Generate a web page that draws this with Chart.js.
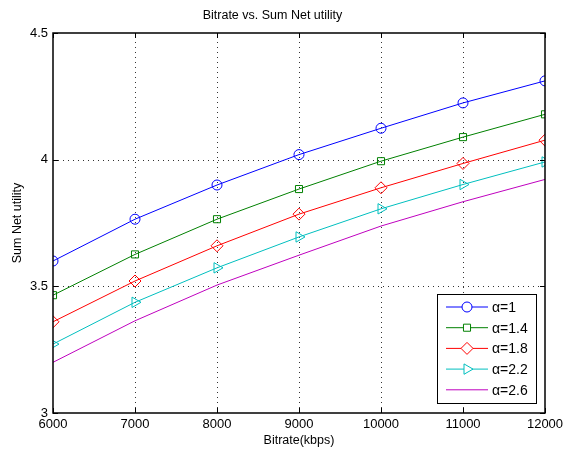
<!DOCTYPE html>
<html>
<head>
<meta charset="utf-8">
<script src="https://cdn.jsdelivr.net/npm/chart.js@4"></script>
<style>
  html, body { margin: 0; padding: 0; background: #fff; }
  #wrap { width: 564px; height: 451px; }
</style>
</head>
<body>
<div id="wrap"><canvas id="chart" width="564" height="451"></canvas></div>
<script>
const bitrates = [6000, 7000, 8000, 9000, 10000, 11000, 12000];
const alpha1 = [3.600, 3.765, 3.900, 4.020, 4.124, 4.224, 4.311];
const alpha14 = [3.465, 3.626, 3.765, 3.884, 3.994, 4.089, 4.179];
const alpha18 = [3.360, 3.521, 3.660, 3.785, 3.889, 3.985, 4.077];
const alpha22 = [3.272, 3.437, 3.573, 3.695, 3.806, 3.902, 3.991];
const alpha26 = [3.200, 3.364, 3.505, 3.623, 3.738, 3.834, 3.922];
const seriesNames = ['α=1', 'α=1.4', 'α=1.8', 'α=2.2', 'α=2.6'];
const xTicks = [6000, 7000, 8000, 9000, 10000, 11000, 12000];
const yTicks = [3, 3.5, 4, 4.5];

const FONT = '"Liberation Sans", Arial, sans-serif';

function series(label, values, color, style, radius, rotation) {
  return {
    label,
    data: bitrates.map((x, i) => ({ x, y: values[i] })),
    borderColor: color,
    backgroundColor: 'rgba(0,0,0,0)',
    borderWidth: 1,
    pointStyle: style,
    pointRadius: radius,
    pointRotation: rotation || 0,
    pointBorderColor: color,
    pointBackgroundColor: 'rgba(0,0,0,0)',
    pointBorderWidth: 1,
    tension: 0
  };
}

const datasets = [
  series(seriesNames[0], alpha1, '#0000ff', 'circle', 5),
  series(seriesNames[1], alpha14, '#008000', 'rect', 5),
  series(seriesNames[2], alpha18, '#ff0000', 'rectRot', 6),
  series(seriesNames[3], alpha22, '#00bfbf', 'triangle', 6, 90),
  series(seriesNames[4], alpha26, '#bf00bf', false, 0)
];

// dotted grid, drawn under the lines
const dottedGrid = {
  id: 'dottedGrid',
  beforeDatasetsDraw(chart) {
    const { ctx, chartArea: a, scales } = chart;
    ctx.save();
    ctx.strokeStyle = '#333';
    ctx.lineWidth = 1;
    ctx.setLineDash([1, 4]);
    ctx.beginPath();
    xTicks.slice(1, -1).forEach(t => {
      const px = Math.round(scales.x.getPixelForValue(t)) + 0.5;
      ctx.moveTo(px, a.bottom); ctx.lineTo(px, a.top);
    });
    yTicks.slice(1, -1).forEach(t => {
      const py = Math.round(scales.y.getPixelForValue(t)) + 0.5;
      ctx.moveTo(a.left, py); ctx.lineTo(a.right, py);
    });
    ctx.stroke();
    ctx.restore();
  }
};

// box, inner ticks and the legend, matlab style
const matlabFrame = {
  id: 'matlabFrame',
  afterDatasetsDraw(chart) {
    const { ctx, chartArea: a, scales } = chart;
    ctx.save();
    ctx.strokeStyle = '#000';
    ctx.lineWidth = 1;
    ctx.beginPath();
    xTicks.forEach(t => {
      const px = Math.round(scales.x.getPixelForValue(t)) + 0.5;
      ctx.moveTo(px, a.bottom); ctx.lineTo(px, a.bottom - 5);
      ctx.moveTo(px, a.top); ctx.lineTo(px, a.top + 5);
    });
    yTicks.forEach(t => {
      const py = Math.round(scales.y.getPixelForValue(t)) + 0.5;
      ctx.moveTo(a.left, py); ctx.lineTo(a.left + 5, py);
      ctx.moveTo(a.right, py); ctx.lineTo(a.right - 5, py);
    });
    ctx.stroke();
    ctx.lineWidth = 1.5;
    ctx.strokeRect(a.left, a.top, a.right - a.left, a.bottom - a.top);

    // legend
    const lx = 437, ly = 294, lw = 99, lh = 109;
    ctx.fillStyle = '#fff';
    ctx.fillRect(lx, ly, lw, lh);
    ctx.lineWidth = 1;
    ctx.strokeRect(lx + 0.5, ly + 0.5, lw, lh);
    ctx.font = '14px ' + FONT;
    ctx.textBaseline = 'middle';
    chart.data.datasets.forEach((ds, i) => {
      const y = 307 + i * 20.7;
      ctx.strokeStyle = ds.borderColor;
      ctx.lineWidth = 1;
      ctx.beginPath();
      ctx.moveTo(446, y); ctx.lineTo(488, y);
      ctx.stroke();
      if (ds.pointStyle) {
        ctx.fillStyle = '#fff';
        Chart.helpers.drawPoint(ctx, {
          pointStyle: ds.pointStyle,
          radius: ds.pointRadius,
          rotation: ds.pointRotation,
          borderWidth: 1
        }, 467, y);
      }
      ctx.fillStyle = '#000';
      ctx.fillText(ds.label, 492, y + 1);
    });
    ctx.restore();
  }
};

new Chart(document.getElementById('chart'), {
  type: 'line',
  data: { datasets },
  plugins: [dottedGrid, matlabFrame],
  options: {
    responsive: false,
    animation: false,
    layout: { padding: { left: 0, right: 19, top: 0, bottom: 0 } },
    plugins: {
      legend: { display: false },
      tooltip: { enabled: false },
      title: {
        display: true,
        text: 'Bitrate vs. Sum Net utility',
        color: '#000',
        font: { family: FONT, size: 12.5, weight: 'normal' },
        padding: { top: 8, bottom: 10 }
      }
    },
    scales: {
      x: {
        type: 'linear',
        min: 6000, max: 12000,
        afterFit(s) { s.height = 38; s.paddingLeft = 0; s.paddingRight = 0; },
        afterBuildTicks(s) { s.ticks = xTicks.map(v => ({ value: v })); },
        ticks: {
          color: '#000',
          font: { family: FONT, size: 13 },
          padding: 4,
          maxRotation: 0,
          callback: v => String(v)
        },
        grid: { display: false, drawTicks: false },
        border: { display: false },
        title: {
          display: true, text: 'Bitrate(kbps)', color: '#000',
          font: { family: FONT, size: 12.5 }, padding: { top: 1, bottom: 3 }
        }
      },
      y: {
        type: 'linear',
        min: 3, max: 4.5,
        afterFit(s) { s.width = 53; s.paddingTop = 0; s.paddingBottom = 0; },
        afterBuildTicks(s) { s.ticks = yTicks.map(v => ({ value: v })); },
        ticks: {
          color: '#000',
          font: { family: FONT, size: 13 },
          padding: 5,
          callback: v => String(v)
        },
        grid: { display: false, drawTicks: false },
        border: { display: false },
        title: {
          display: true, text: 'Sum Net utility', color: '#000',
          font: { family: FONT, size: 12.5 }, padding: { top: 10, bottom: 4 }
        }
      }
    }
  }
});
</script>
</body>
</html>
